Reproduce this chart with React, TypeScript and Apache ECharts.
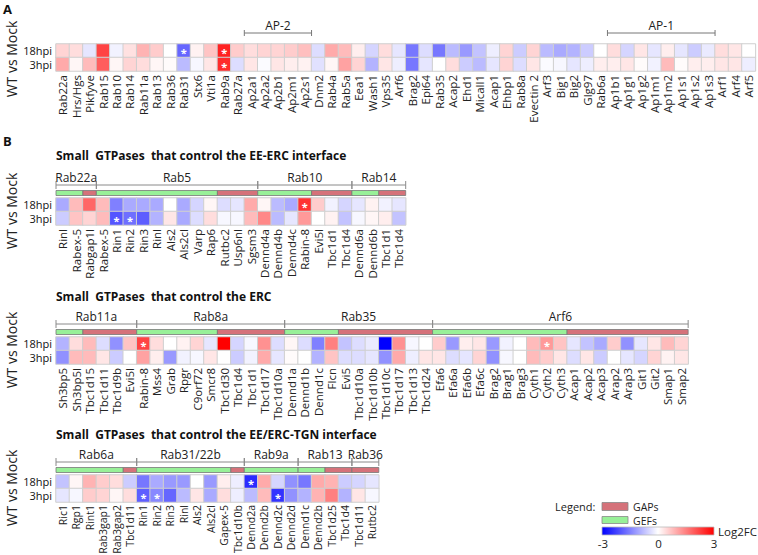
import React, { useEffect, useRef } from "react";
import * as echarts from "echarts";

// ---------- Panel A ----------
const aLabels = ["Rab22a","Hrs/Hgs","Pikfyve","Rab15","Rab10","Rab14","Rab11a","Rab13","Rab36","Rab31","Stx6","Vti1a","Rab9a","Rab27a","Ap2a1","Ap2a2","Ap2b1","Ap2m1","Ap2s1","Dnm2","Rab4a","Rab5a","Eea1","Wash1","Vps35","Arf6","Brag2","Epi64","Rab35","Acap2","Ehd1","Micall1","Acap1","Ehbp1","Rab8a","Evectin 2","Arf3","Big1","Big2","Glg97","Rab6a","Ap1b1","Ap1g1","Ap1g2","Ap1m1","Ap1m2","Ap1s1","Ap1s2","Ap1s3","Arf1","Arf4","Arf5"];
const a18 = [0.5,0.4,-0.3,2.2,-0.15,0.35,0.9,0.6,0,-1.8,0.15,0.7,2.6,0.6,0.4,0.5,0.5,0.6,0.75,-0.4,1.0,0.8,0.2,-0.5,0.4,-0.3,-1.6,-0.4,-1.6,-0.8,-1.2,-0.7,-0.2,0.5,-0.6,0.5,-0.8,-1.0,-0.9,-0.6,0,0.4,-0.5,0.3,-0.3,0.2,-0.3,-0.6,-0.25,0.4,0.3,0];
const a3 = [1.0,0.1,0.8,1.9,0.1,0.5,0.4,0.1,0.05,-0.8,-0.1,0.3,2.5,-0.4,0.3,-0.05,0.3,0.2,0.15,-0.35,0.1,1.1,0.5,-0.9,0.3,-0.2,-1.6,-0.3,0,0.4,-0.6,-0.8,-0.3,0.5,-0.4,0.3,-0.05,-0.1,-0.3,-0.2,0.2,0.2,0.3,0.05,-0.15,0.8,0.05,0.2,0.2,0.3,0.3,-0.2];
const aStars18 = [9, 12];
const aStars3 = [12];
const aBracketNames = ["AP-2", "AP-1"];
const aBracketStarts = [14, 41];
const aBracketSizes = [5, 8];

// ---------- Panel B1: EE-ERC interface ----------
const b1Title = "Small  GTPases  that control the EE-ERC interface";
const b1Labels = ["Rinl","Rabex-5","Rabgap1l","Rabex-5","Rin1","Rin2","Rin3","Rinl","Als2","Als2cl","Varp","Rap6","Rutbc2","Usp6nl","Sgsm3","Dennd4a","Dennd4b","Dennd4c","Rabin-8","Evi5l","Tbc1d1","Tbc1d4","Dennd6a","Dennd6b","Tbc1d1","Tbc1d4"];
const b1v18 = [-1.0,0.8,1.8,0.8,-1.5,-1.0,-1.0,-1.0,0,-1.0,-0.5,0.1,-0.4,-0.3,1.0,0.1,-0.8,-1.0,2.4,0.6,-0.15,-0.5,-0.3,0.15,-0.15,-0.3];
const b1v3 = [-0.6,0.7,0.5,0.8,-2.0,-1.7,-1.9,-0.9,0.3,-1.0,-0.4,0.4,-0.1,-0.1,0.8,1.4,-0.8,-0.3,1.2,0,0.15,-0.7,-0.1,0.1,0.2,-0.7];
const b1Stars18 = [18];
const b1Stars3 = [4, 5];
const b1Groups = ["Rab22a", "Rab5", "Rab10", "Rab14"];
const b1Sizes = [3, 12, 7, 4];
const b1Gefs = [2, 9, 4, 2];

// ---------- Panel B2: ERC ----------
const b2Title = "Small  GTPases  that control the ERC";
const b2Labels = ["Sh3bp5","Sh3bp5l","Tbc1d15","Tbc1d11","Tbc1d9b","Evi5l","Rabin-8","Mss4","Grab","Rpgr","C9orf72","Smcr8","Tbc1d30","Tbc1d4","Tbc1d1","Tbc1d17","Tbc1d10a","Dennd1a","Dennd1b","Dennd1c","Flcn","Evi5","Tbc1d10a","Tbc1d10b","Tbc1d10c","Tbc1d17","Tbc1d13","Tbc1d24","Efa6","Efa6a","Efa6b","Efa6c","Brag2","Brag1","Brag3","Cyth1","Cyth2","Cyth3","Acap1","Acap2","Acap3","Arap2","Arap3","Git1","Git2","Smap1","Smap2"];
const b2v18 = [-0.9,0.4,0.8,-0.4,-1.3,0.7,2.2,0.4,0,0.15,0.5,-0.3,3.0,-0.5,-0.1,1.3,-0.4,0.1,-0.4,-1.5,1.5,-0.7,-0.4,-0.25,-3.0,1.3,-0.1,0,0.6,-1.2,0.2,0.3,-1.2,-0.15,0,0.8,1.2,0.7,-0.3,-0.7,-1.0,0.6,-1.3,-0.3,0.3,0.8,0.5];
const b2v3 = [-1.3,0.8,0.8,0.3,-0.6,0,1.1,0.2,-1.2,-0.15,-0.1,0.3,0,-0.6,-0.15,1.0,-0.3,0.05,0,-0.9,0.7,-0.4,-0.4,-0.3,-1.3,1.0,-0.2,0.3,0.3,-0.4,-0.3,0.5,-1.3,-0.1,0,0.8,0.6,0.3,-0.4,0.3,-0.6,0,-0.3,-0.5,0.5,0.15,0.3];
const b2Stars18 = [6, 36];
const b2Stars3: number[] = [];
const b2Groups = ["Rab11a", "Rab8a", "Rab35", "Arf6"];
const b2Sizes = [6, 11, 11, 19];
const b2Gefs = [2, 6, 4, 10];

// ---------- Panel B3: EE/ERC-TGN interface ----------
const b3Title = "Small  GTPases  that control the EE/ERC-TGN interface";
const b3Labels = ["Ric1","Rgp1","Rint1","Rab3gap1","Rab3gap2","Tbc1d11","Rin1","Rin2","Rin3","Rinl","Als2","Als2cl","Gapex-5","Tbc1d10b","Dennd2a","Dennd2b","Dennd2c","Dennd2d","Dennd1c","Dennd2b","Tbc1d25","Tbc1d4","Tbc1d11","Rutbc2"];
const b3v18 = [-0.7,0.1,0.9,0.6,0.4,-0.6,-1.6,-1.0,-1.2,-1.2,0,-1.2,0.2,-0.2,-2.5,1.0,-0.5,-1.3,-1.6,1.0,0.9,-0.6,-0.5,-0.3];
const b3v3 = [-0.3,-0.1,0.6,0.5,0.1,0.4,-1.9,-1.4,-1.8,-0.8,0.3,-1.0,0.4,-0.2,-0.8,0.8,-2.4,-1.3,-0.9,0.9,1.5,-0.9,0.3,-0.1];
const b3Stars18 = [14];
const b3Stars3 = [6, 7, 16];
const b3Groups = ["Rab6a", "Rab31/22b", "Rab9a", "Rab13", "Rab36"];
const b3Sizes = [6, 8, 4, 4, 2];
const b3Gefs = [5, 7, 4, 2, 0];

const rowLabels = ["18hpi", "3hpi"];
const legendTicks = ["-3", "0", "3"];

const FONT = "'Open Sans', 'Noto Sans', sans-serif";
const GAP_COLOR = "#d5727a";
const GEF_COLOR = "#98f098";
const CELL = 13.45;
const LEFT = 56;

function heatData(v18: number[], v3: number[], s18: number[], s3: number[]) {
  const out: any[] = [];
  const star = { show: true, formatter: "*", color: "#fff", fontSize: 11, lineHeight: 6, fontWeight: "bold", offset: [0, 2] };
  v18.forEach((v, i) => {
    out.push(s18.includes(i) ? { value: [i, 0, v], label: star } : { value: [i, 0, v] });
  });
  v3.forEach((v, i) => {
    out.push(s3.includes(i) ? { value: [i, 1, v], label: star } : { value: [i, 1, v] });
  });
  return out;
}

function groupData(sizes: number[], gefs: number[]) {
  const out: number[][] = [];
  let s = 0;
  sizes.forEach((n, i) => {
    out.push([s, n, gefs[i]]);
    s += n;
  });
  return out;
}

export default function App() {
  const ref = useRef<HTMLDivElement>(null);
  useEffect(() => {
    if (!ref.current) return;
    const chart = echarts.init(ref.current, null, { renderer: "svg" });

    const panels = [
      { labels: aLabels, v18: a18, v3: a3, s18: aStars18, s3: aStars3, top: 44, fs: 11.5, m: 4 },
      { labels: b1Labels, v18: b1v18, v3: b1v3, s18: b1Stars18, s3: b1Stars3, top: 198, fs: 11.5, m: 4 },
      { labels: b2Labels, v18: b2v18, v3: b2v3, s18: b2Stars18, s3: b2Stars3, top: 337, fs: 11.5, m: 4 },
      { labels: b3Labels, v18: b3v18, v3: b3v3, s18: b3Stars18, s3: b3Stars3, top: 475, fs: 10.5, m: 3 },
    ];

    const grid = panels.map((p) => ({
      left: LEFT,
      top: p.top,
      width: p.labels.length * CELL,
      height: 27,
      containLabel: false,
      outerBoundsMode: "none",
    }));
    const xAxis = panels.map((p, i) => ({
      type: "category",
      gridIndex: i,
      data: p.labels,
      axisLine: { show: false },
      axisTick: { show: false },
      splitLine: { show: false },
      axisLabel: { rotate: 90, interval: 0, fontSize: p.fs, color: "#222", margin: p.m, fontFamily: FONT },
    }));
    const yAxis = panels.map((p, i) => ({
      type: "category",
      gridIndex: i,
      data: rowLabels,
      inverse: true,
      axisLine: { show: false },
      axisTick: { show: false },
      splitLine: { show: false },
      axisLabel: { interval: 0, fontSize: 11, lineHeight: 10, verticalAlign: "middle", color: "#111", margin: 4, fontFamily: FONT },
    }));

    const heatSeries = panels.map((p, i) => ({
      type: "heatmap",
      xAxisIndex: i,
      yAxisIndex: i,
      data: heatData(p.v18, p.v3, p.s18, p.s3),
      itemStyle: { borderColor: "#cfcfcf", borderWidth: 1 },
      label: { show: false },
      emphasis: { disabled: true },
    }));

    const groupSets = [
      { names: b1Groups, data: groupData(b1Sizes, b1Gefs), idx: 1 },
      { names: b2Groups, data: groupData(b2Sizes, b2Gefs), idx: 2 },
      { names: b3Groups, data: groupData(b3Sizes, b3Gefs), idx: 3 },
    ];

    const groupSeries = groupSets.map((g) => ({
      type: "custom",
      xAxisIndex: g.idx,
      yAxisIndex: g.idx,
      clip: false,
      silent: true,
      data: g.data,
      renderItem: (params: any, api: any) => {
        const start = api.value(0);
        const size = api.value(1);
        const gef = api.value(2);
        const w = api.size([1, 0])[0];
        const h = api.size([0, 1])[1];
        const x0 = api.coord([start, 0])[0] - w / 2;
        const x1 = x0 + size * w;
        const xm = x0 + gef * w;
        const top = api.coord([0, 0])[1] - h / 2;
        const stroke = { stroke: "#8a8a8a", lineWidth: 1 };
        const children: any[] = [
          { type: "line", shape: { x1: x0, y1: top - 13, x2: x1, y2: top - 13 }, style: stroke },
          { type: "line", shape: { x1: x0, y1: top - 17, x2: x0, y2: top - 9 }, style: stroke },
          { type: "line", shape: { x1: x1, y1: top - 17, x2: x1, y2: top - 9 }, style: stroke },
          {
            type: "text",
            style: {
              x: (x0 + x1) / 2, y: top - 21, text: g.names[params.dataIndex],
              textAlign: "center", textVerticalAlign: "middle",
              fontSize: 12, fill: "#222", fontFamily: FONT,
            },
          },
        ];
        if (gef > 0) {
          children.push({ type: "rect", shape: { x: x0, y: top - 7.5, width: xm - x0, height: 5 }, style: { fill: GEF_COLOR, stroke: "#777", lineWidth: 0.8 } });
        }
        if (size - gef > 0) {
          children.push({ type: "rect", shape: { x: xm, y: top - 7.5, width: x1 - xm, height: 5 }, style: { fill: GAP_COLOR, stroke: "#777", lineWidth: 0.8 } });
        }
        return { type: "group", children };
      },
    }));

    const apSeries = {
      type: "custom",
      xAxisIndex: 0,
      yAxisIndex: 0,
      clip: false,
      silent: true,
      data: aBracketStarts.map((s, i) => [s, aBracketSizes[i]]),
      renderItem: (params: any, api: any) => {
        const start = api.value(0);
        const size = api.value(1);
        const w = api.size([1, 0])[0];
        const h = api.size([0, 1])[1];
        const x0 = api.coord([start, 0])[0] - w / 2;
        const x1 = x0 + size * w;
        const top = api.coord([0, 0])[1] - h / 2;
        const stroke = { stroke: "#777", lineWidth: 1 };
        return {
          type: "group",
          children: [
            { type: "line", shape: { x1: x0, y1: top - 11, x2: x1, y2: top - 11 }, style: stroke },
            { type: "line", shape: { x1: x0, y1: top - 14, x2: x0, y2: top - 8 }, style: stroke },
            { type: "line", shape: { x1: x1, y1: top - 14, x2: x1, y2: top - 8 }, style: stroke },
            {
              type: "text",
              style: {
                x: (x0 + x1) / 2, y: top - 19, text: aBracketNames[params.dataIndex],
                textAlign: "center", textVerticalAlign: "middle",
                fontSize: 12, fill: "#222", fontFamily: FONT,
              },
            },
          ],
        };
      },
    };

    const wtCenters = [59, 211, 350, 488];
    const graphic: any[] = [
      { type: "text", left: 3, top: 2, style: { text: "A", fontSize: 13, fontWeight: "bold", fill: "#111", fontFamily: FONT } },
      { type: "text", left: 3, top: 134, style: { text: "B", fontSize: 13, fontWeight: "bold", fill: "#111", fontFamily: FONT } },
      ...wtCenters.map((c) => ({
        type: "text", x: 11, y: c, rotation: Math.PI / 2,
        style: { text: "WT vs Mock", fontSize: 14, fill: "#222", textAlign: "center", textVerticalAlign: "middle", fontFamily: FONT },
      })),
      ...[
        { t: b1Title, y: 155 },
        { t: b2Title, y: 296 },
        { t: b3Title, y: 434 },
      ].map((o) => ({
        type: "text", x: 56, y: o.y,
        style: { text: o.t, fontSize: 12, fontWeight: "bold", fill: "#111", textVerticalAlign: "middle", fontFamily: FONT },
      })),
      { type: "text", x: 555, y: 506.5, style: { text: "Legend:", fontSize: 11, lineHeight: 10, fill: "#222", textVerticalAlign: "middle", fontFamily: FONT } },
      { type: "rect", shape: { x: 602, y: 502.5, width: 26, height: 8 }, style: { fill: GAP_COLOR, stroke: "#888", lineWidth: 0.8 } },
      { type: "text", x: 633, y: 506.5, style: { text: "GAPs", fontSize: 10.5, lineHeight: 10, fill: "#222", textVerticalAlign: "middle", fontFamily: FONT } },
      { type: "rect", shape: { x: 602, y: 516.5, width: 26, height: 7 }, style: { fill: GEF_COLOR, stroke: "#888", lineWidth: 0.8 } },
      { type: "text", x: 633, y: 520.5, style: { text: "GEFs", fontSize: 10.5, lineHeight: 10, fill: "#222", textVerticalAlign: "middle", fontFamily: FONT } },
      {
        type: "rect", shape: { x: 602, y: 527, width: 112, height: 8 },
        style: {
          fill: new echarts.graphic.LinearGradient(0, 0, 1, 0, [
            { offset: 0, color: "#0000ff" },
            { offset: 0.5, color: "#ffffff" },
            { offset: 1, color: "#ff0000" },
          ]),
          stroke: "#bbb", lineWidth: 0.8,
        },
      },
      { type: "text", x: 718, y: 531, style: { text: "Log2FC", fontSize: 11.5, lineHeight: 11, fill: "#222", textVerticalAlign: "middle", fontFamily: FONT } },
      ...legendTicks.map((t, i) => ({
        type: "text", x: 603 + i * 55.5, y: 543,
        style: { text: t, fontSize: 11.5, lineHeight: 11, fill: "#222", textAlign: "center", textVerticalAlign: "middle", fontFamily: FONT },
      })),
    ];

    chart.setOption({
      animation: false,
      backgroundColor: "#ffffff",
      textStyle: { fontFamily: FONT },
      grid,
      xAxis,
      yAxis,
      visualMap: {
        type: "continuous",
        min: -3,
        max: 3,
        show: false,
        seriesIndex: [0, 1, 2, 3],
        inRange: { color: ["#0000ff", "#ffffff", "#ff0000"] },
      },
      series: [...heatSeries, ...groupSeries, apSeries],
      graphic,
    });

    return () => chart.dispose();
  }, []);

  return (
    <div
      ref={ref}
      style={{ position: "fixed", left: 0, top: 0, width: 758, height: 555, background: "#fff" }}
    />
  );
}
